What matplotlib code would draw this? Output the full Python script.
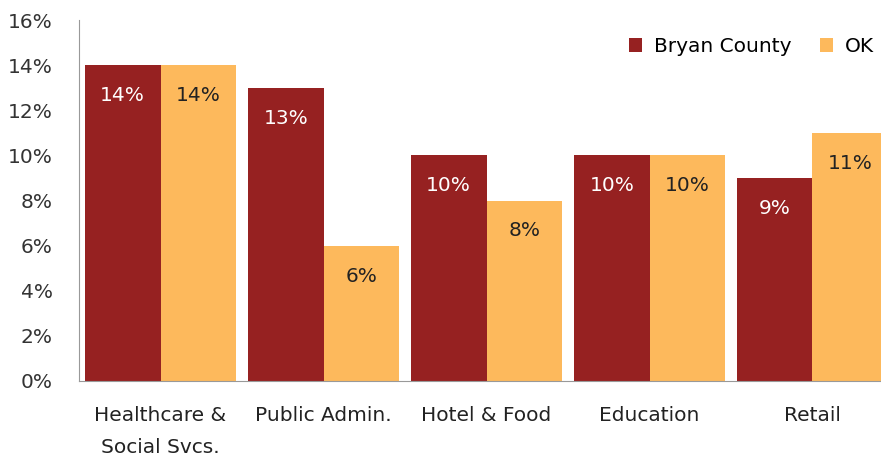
import matplotlib
matplotlib.use("Agg")
import matplotlib.pyplot as plt
import numpy as np

categories = ["Healthcare &\nSocial Svcs.", "Public Admin.", "Hotel & Food", "Education", "Retail"]
bryan = [14, 13, 10, 10, 9]
ok = [14, 6, 8, 10, 11]
yticks = [0, 2, 4, 6, 8, 10, 12, 14, 16]

red = "#962121"
orange = "#FDB95C"

plt.rcParams['font.family'] = ['DejaVu Sans']
fs = 14.5
fig = plt.figure(figsize=(8.81, 4.58), dpi=100)
ax = fig.add_axes([79/881, (458-381)/458, 815/881, (381-20)/458])

x = np.arange(len(categories))
w = (163 - 12) / 163 / 2
ax.bar(x - w/2, bryan, w, color=red, label="Bryan County")
ax.bar(x + w/2, ok, w, color=orange, label="OK")

for xi, v in zip(x, bryan):
    ax.text(xi - w/2, v - 1.35, f"{v}%", ha="center", va="center", color="white", fontsize=fs)
for xi, v in zip(x, ok):
    ax.text(xi + w/2, v - 1.35, f"{v}%", ha="center", va="center", color="#222222", fontsize=fs)

ax.set_xlim(-0.5, 4.5)
ax.set_ylim(0, 16)
ax.set_yticks(yticks)
ax.set_yticklabels([f"{t}%" for t in yticks], fontsize=fs, color="#333333")
ax.set_xticks(x)
ax.set_xticklabels(categories, fontsize=fs, color="#222222", linespacing=1.85, va="top")
ax.tick_params(axis="x", length=0, pad=18)
ax.tick_params(axis="y", length=0, pad=19)
for s in ["top", "right"]:
    ax.spines[s].set_visible(False)
ax.spines["left"].set_color("#999999")
ax.spines["bottom"].set_color("#999999")

ax.legend(loc="upper right", bbox_to_anchor=((882-79)/815, 1 - 9/361), ncol=2, frameon=False,
          fontsize=fs, handlelength=0.65, handleheight=0.65, columnspacing=1.4, handletextpad=0.6,
          borderaxespad=0)

fig.savefig("out.png", dpi=100)
